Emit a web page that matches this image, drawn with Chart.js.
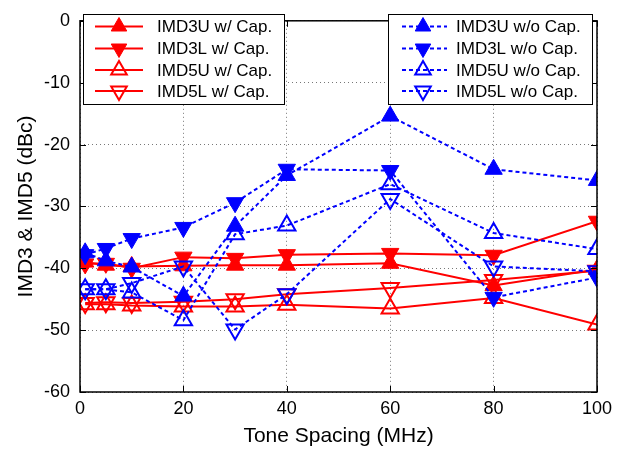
<!DOCTYPE html>
<html><head><meta charset="utf-8">
<script src="https://cdn.jsdelivr.net/npm/chart.js@4.4.1/dist/chart.umd.min.js"></script>
<style>html,body{margin:0;padding:0;background:#fff;overflow:hidden}#wrap{position:relative;width:638px;height:449px}</style>
</head><body><div id="wrap"><canvas id="c" width="638" height="449"></canvas></div>
<script>
// ---- data ----
const toneSpacing = [1, 5, 10, 20, 30, 40, 60, 80, 100];
const imd3uCap = [-39.0, -39.5, -39.7, -39.6, -39.5, -39.5, -39.2, -42.8, -40.2];
const imd3lCap = [-39.3, -39.2, -40.0, -38.2, -38.4, -37.8, -37.6, -37.9, -32.4];
const imd5uCap = [-45.8, -45.8, -46.0, -46.2, -46.2, -45.9, -46.5, -44.8, -49.1];
const imd5lCap = [-45.6, -45.5, -45.6, -45.4, -45.0, -44.2, -43.2, -41.9, -40.4];
const imd3uNoCap = [-37.5, -38.8, -39.8, -44.5, -33.2, -25.0, -15.4, -24.0, -25.8];
const imd3lNoCap = [-37.8, -36.8, -35.2, -33.4, -29.4, -24.0, -24.2, -44.7, -41.5];
const imd5uNoCap = [-43.4, -43.4, -43.9, -48.4, -34.5, -33.1, -26.4, -34.3, -36.9];
const imd5lNoCap = [-43.4, -43.4, -42.4, -39.7, -49.9, -44.2, -28.8, -39.7, -40.5];
const capLabels = ['IMD3U w/ Cap.', 'IMD3L w/ Cap.', 'IMD5U w/ Cap.', 'IMD5L w/ Cap.'];
const noCapLabels = ['IMD3U w/o Cap.', 'IMD3L w/o Cap.', 'IMD5U w/o Cap.', 'IMD5L w/o Cap.'];
const xTicks = [0, 20, 40, 60, 80, 100];
const yTicks = [-60, -50, -40, -30, -20, -10, 0];
const xTitle = 'Tone Spacing (MHz)';
const yTitle = 'IMD3 & IMD5 (dBc)';

const FONT = "'Liberation Sans', Arial, sans-serif";
const RED = '#ff0000', BLUE = '#0000ff';
const R = 10;

function pts(arr){ return arr.map((v,i)=>({x: toneSpacing[i], y: v})); }
// marker specs: [down?, filled?]
const specs = [[false,true],[true,true],[false,false],[true,false]];

function mkDs(label, arr, color, k, dashed){
  const [down, filled] = specs[k];
  return {
    label, data: pts(arr),
    borderColor: color, backgroundColor: color,
    borderWidth: 2, borderDash: dashed ? [4,3] : [],
    pointStyle: 'triangle', pointRotation: down ? 180 : 0,
    pointRadius: R, pointHoverRadius: R,
    pointBackgroundColor: filled ? color : 'rgba(0,0,0,0)',
    pointBorderColor: color, pointBorderWidth: filled ? 1 : 2,
    tension: 0, clip: 0, order: dashed ? 1 : 2
  };
}
const capSeries = [imd3uCap, imd3lCap, imd5uCap, imd5lCap];
const noCapSeries = [imd3uNoCap, imd3lNoCap, imd5uNoCap, imd5lNoCap];
const datasets = [];
capSeries.forEach((a,k)=>datasets.push(mkDs(capLabels[k], a, RED, k, false)));
noCapSeries.forEach((a,k)=>datasets.push(mkDs(noCapLabels[k], a, BLUE, k, true)));

function tri(ctx, x, y, r, down, filled, color){
  const s = down ? -1 : 1;
  ctx.beginPath();
  ctx.moveTo(x, y - s*r);
  ctx.lineTo(x + 0.866*r, y + s*0.5*r);
  ctx.lineTo(x - 0.866*r, y + s*0.5*r);
  ctx.closePath();
  ctx.setLineDash([]);
  ctx.strokeStyle = color;
  if (filled){ ctx.fillStyle = color; ctx.fill(); ctx.lineWidth = 1; }
  else { ctx.lineWidth = 2; }
  ctx.stroke();
}

const framePlugin = {
  id: 'frame',
  afterDatasetsDraw(chart){
    const {ctx, chartArea: a, scales: {x, y}} = chart;
    ctx.save();
    ctx.strokeStyle = '#000'; ctx.lineWidth = 1; ctx.setLineDash([]);
    ctx.beginPath();
    x.ticks.forEach(t=>{ const px = Math.round(x.getPixelForValue(t.value)) + 0.5;
      ctx.moveTo(px, a.bottom); ctx.lineTo(px, a.bottom - 6);
      ctx.moveTo(px, a.top); ctx.lineTo(px, a.top + 6); });
    y.ticks.forEach(t=>{ const py = Math.round(y.getPixelForValue(t.value)) + 0.5;
      ctx.moveTo(a.left, py); ctx.lineTo(a.left + 6, py);
      ctx.moveTo(a.right, py); ctx.lineTo(a.right - 6, py); });
    ctx.stroke();
    ctx.lineWidth = 1.5;
    ctx.strokeRect(a.left, a.top, a.right - a.left, a.bottom - a.top);
    ctx.restore();
  },
  afterDraw(chart){
    const ctx = chart.ctx;
    const rows = [27.5, 49.5, 71, 92];
    function box(x0, x1, labels, color, dashed, l0, l1, mx, tx){
      ctx.save();
      ctx.fillStyle = '#fff'; ctx.fillRect(x0, 14, x1 - x0, 90);
      ctx.strokeStyle = '#000'; ctx.lineWidth = 1; ctx.setLineDash([]);
      ctx.strokeRect(x0 + 0.5, 14.5, x1 - x0, 90);
      labels.forEach((lab, k)=>{
        const yy = rows[k];
        ctx.strokeStyle = color; ctx.lineWidth = 2;
        ctx.setLineDash(dashed ? [4,3] : []);
        ctx.beginPath(); ctx.moveTo(l0, yy - 1); ctx.lineTo(l1, yy - 1); ctx.stroke();
        tri(ctx, mx, yy - 1, 9, specs[k][0], specs[k][1], color);
        ctx.fillStyle = '#000'; ctx.font = '17px ' + FONT;
        ctx.textBaseline = 'middle'; ctx.textAlign = 'left';
        ctx.fillText(lab, tx, yy);
      });
      ctx.restore();
    }
    box(83, 284, capLabels, RED, false, 95, 143, 119, 157);
    box(388, 592, noCapLabels, BLUE, true, 402, 447, 423, 456);
  }
};

new Chart(document.getElementById('c'), {
  type: 'line',
  data: { datasets },
  options: {
    responsive: false, animation: false, devicePixelRatio: 1,
    layout: { padding: { left: 0, right: 41, top: 12, bottom: 0 } },
    plugins: { legend: { display: false }, tooltip: { enabled: false } },
    scales: {
      x: {
        type: 'linear', min: 0, max: 100,
        afterFit: s => { s.height = 57; },
        afterBuildTicks: s => { s.ticks = xTicks.map(v=>({value: v})); },
        ticks: { color: '#000', font: { family: FONT, size: 18 }, padding: 6, maxRotation: 0 },
        grid: { color: '#777', lineWidth: 1, drawTicks: false },
        border: { display: false, dash: [1,3] },
        title: { display: true, text: xTitle, color: '#000', font: { family: FONT, size: 21 }, padding: { top: 0, bottom: 0 } }
      },
      y: {
        type: 'linear', min: -60, max: 0,
        afterFit: s => { s.width = 80; },
        afterBuildTicks: s => { s.ticks = yTicks.map(v=>({value: v})); },
        ticks: { color: '#000', font: { family: FONT, size: 18 }, padding: 10, callback: v => String(v) },
        grid: { color: '#777', lineWidth: 1, drawTicks: false },
        border: { display: false, dash: [1,3] },
        title: { display: true, text: yTitle, color: '#000', font: { family: FONT, size: 21 }, padding: { top: 14, bottom: 0 } }
      }
    }
  },
  plugins: [framePlugin]
});
</script>
</body></html>
